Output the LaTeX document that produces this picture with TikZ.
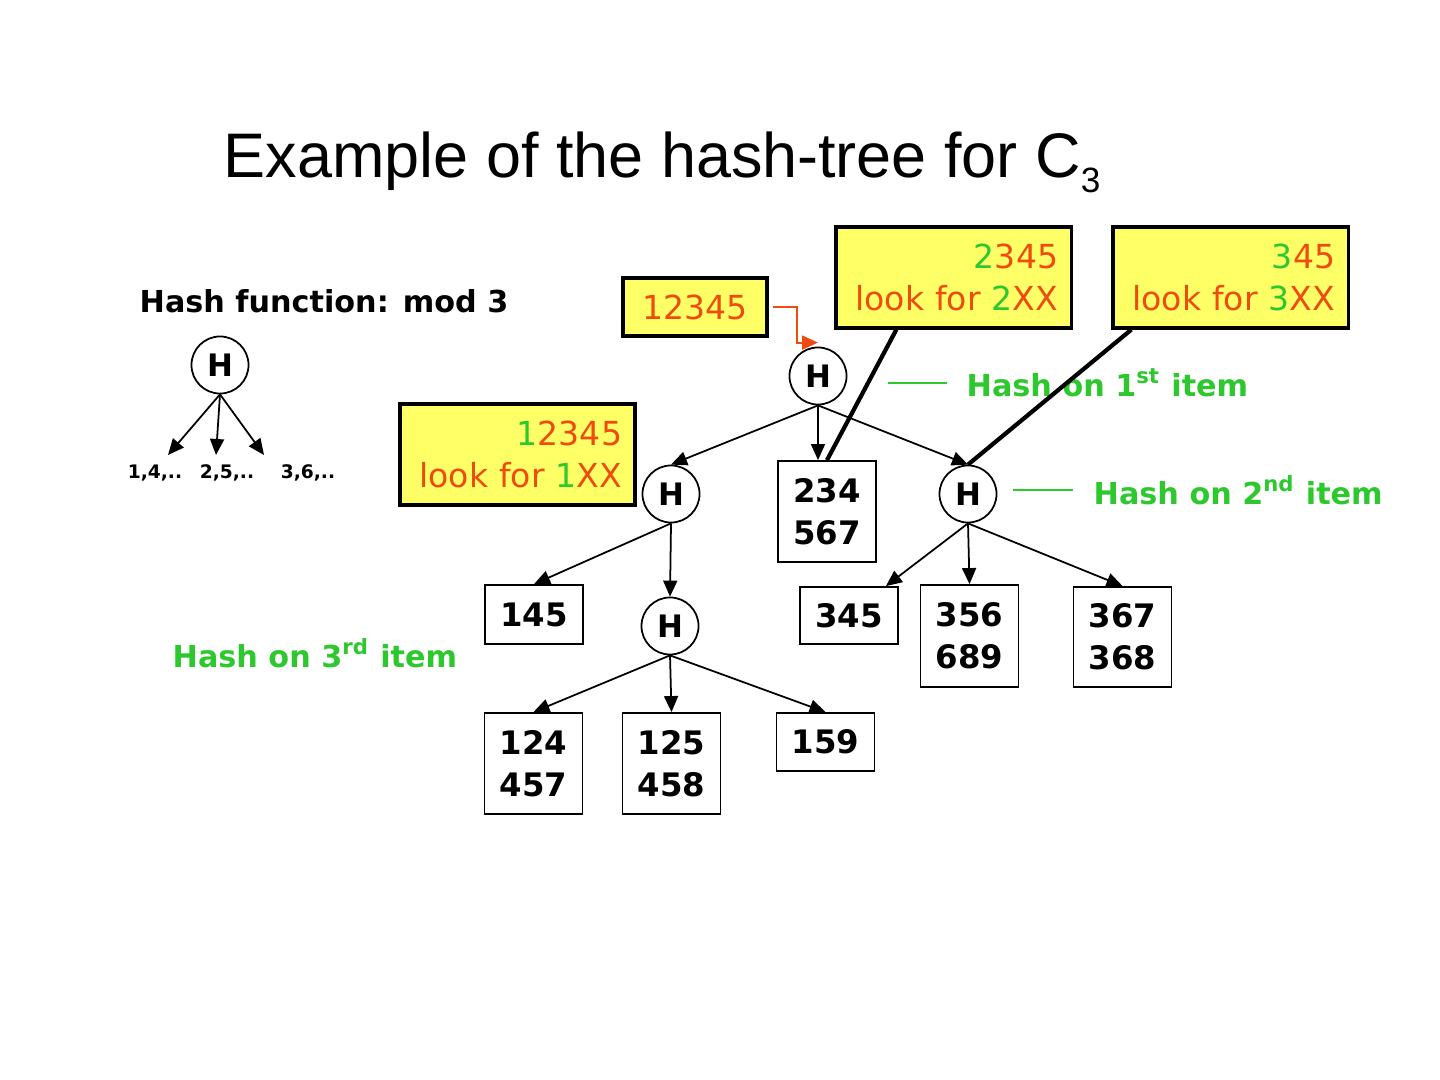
\documentclass[tikz,border=0pt]{standalone}
\usepackage{fontspec}
\setmainfont{DejaVu Sans}
\newfontfamily\titlefont{Liberation Sans}
\usepackage{tikz}
\usetikzlibrary{arrows.meta, positioning, calc}
\definecolor{HashYellow}{HTML}{FFFF66}
\definecolor{HashRed}{HTML}{F04B0F}
\definecolor{HashGreen}{HTML}{2DC82D}
\newcommand{\grn}[1]{\textcolor{HashGreen}{#1}}
\tikzset{
    % Node styles
    hashnode/.style={
        circle,
        draw=black,
        line width=0.5pt,
        fill=white,
        minimum size=0.57cm,
        inner sep=0pt,
        font=\bfseries\fontsize{8.8}{10}\selectfont
    },
    itembox/.style={
        rectangle,
        draw=black,
        line width=0.5pt,
        fill=white,
        minimum width=0.98cm,
        inner sep=0pt,
        align=center,
        font=\bfseries\fontsize{9.2}{12}\selectfont
    },
    querybox/.style={
        rectangle,
        draw=black,
        line width=0.9pt,
        fill=HashYellow,
        text=HashRed,
        minimum height=1.01cm,
        text width=2.09cm,
        inner xsep=0.13cm,
        inner ysep=0pt,
        align=right,
        font=\fontsize{9.4}{12.2}\selectfont
    },
    hashlabel/.style={
        anchor=base west,
        inner sep=0pt,
        text=HashGreen,
        font=\bfseries\fontsize{8.6}{10}\selectfont
    },
    % Arrow styles
    treearrow/.style={
        -{Triangle[length=1.6mm,width=1.4mm]},
        line width=0.5pt,
        black
    },
    inputarrow/.style={
        -{Triangle[length=1.6mm,width=1.4mm]},
        line width=0.6pt,
        HashRed
    },
    pointer/.style={
        line width=1.2pt,
        black
    },
    leader/.style={
        HashGreen,
        line width=0.4pt
    }
}

\begin{document}
\begin{tikzpicture}[x=0.01cm, y=-0.01cm]
    \fill[white] (0,0) rectangle (1440,1080);
    \useasboundingbox (0,0) rectangle (1440,1080);

    % Title
    \node[anchor=base west, inner sep=0pt, font=\titlefont\fontsize{17.9}{20}\selectfont] (title) at (223,178)
        {Example of the hash-tree for C\raisebox{-4pt}{\fontsize{10}{10}\selectfont 3}};

    % Hash function legend
    \node[anchor=base west, inner sep=0pt, font=\bfseries\fontsize{8.6}{10}\selectfont] (hashfn) at (139,313) {Hash function: mod 3};
    \node[hashnode] (hkey) at (220,365) {H};
    \coordinate (b1) at (168,455);
    \coordinate (b2) at (216,455);
    \coordinate (b3) at (264,455);
    \draw[treearrow] (hkey.south) -- (b1);
    \draw[treearrow] (hkey.south) -- (b2);
    \draw[treearrow] (hkey.south) -- (b3);
    \node[font=\bfseries\fontsize{5.3}{6}\selectfont] (mod1) at (155,473) {1,4,..};
    \node[font=\bfseries\fontsize{5.3}{6}\selectfont] (mod2) at (227,473) {2,5,..};
    \node[font=\bfseries\fontsize{5.3}{6}\selectfont] (mod3) at (308,473) {3,6,..};

    % Hash nodes
    \node[hashnode] (h1) at (818,376) {H};
    \node[hashnode] (h2) at (671,494) {H};
    \node[hashnode] (h3) at (968,494) {H};
    \node[hashnode] (h4) at (670,626) {H};

    % Leaves
    \node[itembox, minimum height=1.01cm] (k234) at (827,511.5) {234\\567};
    \node[itembox, minimum height=0.59cm] (k145) at (534,614.5) {145};
    \node[itembox, minimum height=0.57cm] (k345) at (849,615.5) {345};
    \node[itembox, minimum height=1.02cm] (k356) at (969.5,636) {356\\689};
    \node[itembox, minimum height=1.00cm] (k367) at (1122.5,637) {367\\368};
    \node[itembox, minimum height=1.01cm] (k124) at (533.5,763.5) {124\\457};
    \node[itembox, minimum height=1.01cm] (k125) at (671.5,763.5) {125\\458};
    \node[itembox, minimum height=0.58cm] (k159) at (825.5,742) {159};

    % Tree arrows
    \draw[treearrow] (h1.south) -- (h2.north);
    \draw[treearrow] (h1.south) -- (h1.south |- k234.north);
    \draw[treearrow] (h1.south) -- (h3.north);
    \draw[treearrow] (h2.south) -- (k145.north);
    \draw[treearrow] (h2.south) -- (h4.north);
    \draw[treearrow] (h3.south) -- ($(k345.north east)+(-13,0)$);
    \draw[treearrow] (h3.south) -- (k356.north);
    \draw[treearrow] (h3.south) -- (k367.north);
    \draw[treearrow] (h4.south) -- (k124.north);
    \draw[treearrow] (h4.south) -- (k125.north);
    \draw[treearrow] (h4.south) -- (k159.north);

    % Level labels
    \node[hashlabel] (lbl1) at (966,397) {Hash on 1\textsuperscript{st} item};
    \node[hashlabel] (lbl2) at (1093,505) {Hash on 2\textsuperscript{nd} item};
    \node[hashlabel] (lbl3) at (172,668) {Hash on 3\textsuperscript{rd} item};
    \draw[leader] ($(lbl1.base west)+(-19,-14)$) -- ++(-59,0);
    \draw[leader] ($(lbl2.base west)+(-20,-15)$) -- ++(-60,0);

    % Query boxes
    \node[querybox, text width=1.18cm, minimum height=0.58cm, align=center] (qroot) at (695,307) {12345};
    \node[querybox] (q1) at (517.5,454.5) {\grn{1}2345\\look for \grn{1}XX};
    \node[querybox] (q2) at (953.5,277.5) {\grn{2}345\\look for \grn{2}XX};
    \node[querybox] (q3) at (1230.5,277.5) {\grn{3}45\\look for \grn{3}XX};

    % Pointers
    \draw[inputarrow] ($(qroot.east)+(4,0)$) -- ++(24,0) |- ($(h1.north)+(0,-4)$);
    \draw[pointer] ($(q2.south west)+(62,0)$) -- (k234.north);
    \draw[pointer] ($(q3.south west)+(20,0)$) -- (h3.north);
\end{tikzpicture}
\end{document}
